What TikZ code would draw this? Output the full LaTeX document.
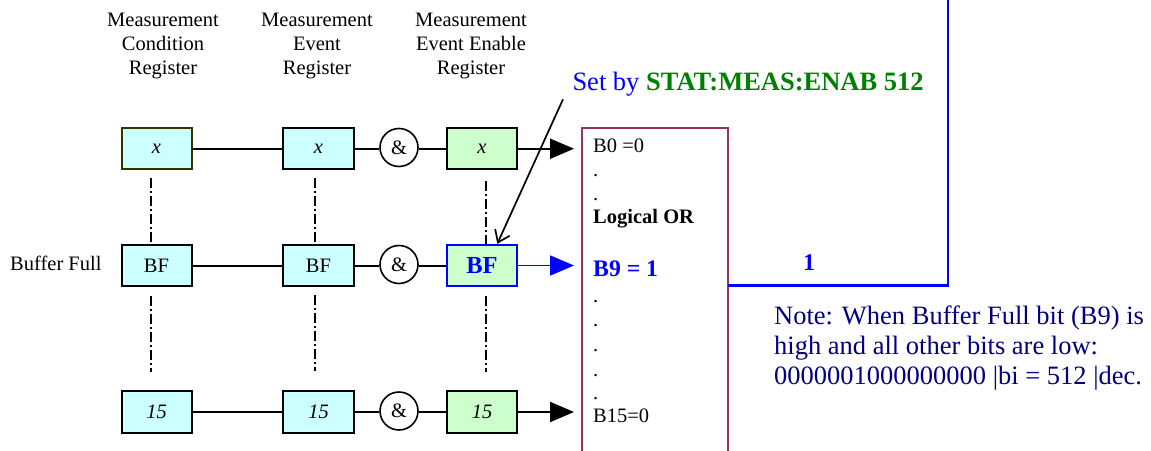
\documentclass[tikz,border=0pt]{standalone}
\usepackage{fontspec}
\setmainfont{Liberation Serif}
\usetikzlibrary{arrows.meta,calc}
\definecolor{cyanfill}{HTML}{CCFFFF}
\definecolor{greenfill}{HTML}{CCFFCC}
\definecolor{orboxcol}{HTML}{993366}
\definecolor{cmdgreen}{HTML}{008000}
\definecolor{notenavy}{HTML}{000080}
\definecolor{oliveborder}{HTML}{333300}
\begin{document}
\begin{tikzpicture}[x=1pt,y=-1pt,
  reg/.style={draw=black, line width=2pt, minimum width=70pt, minimum height=41.5pt, inner sep=0pt, font=\fontsize{20.5}{24}\selectfont},
  cyanreg/.style={reg, fill=cyanfill},
  greenreg/.style={reg, fill=greenfill},
  andgate/.style={circle, draw=black, line width=1.6pt, minimum size=38pt, inner sep=0pt, fill=white, font=\fontsize{20.5}{24}\selectfont},
  wire/.style={line width=2pt},
  feed/.style={line width=2pt, -{Triangle[length=24pt,width=20pt]}},
  chain/.style={line width=2pt, dash pattern=on 10pt off 3pt on 2pt off 3pt},
  lbl/.style={inner sep=0pt, font=\fontsize{20.5}{24}\selectfont},
  notetext/.style={inner sep=0pt, text=notenavy, font=\fontsize{26.5}{30}\selectfont}
]
\useasboundingbox (0,0) rectangle (1151,450);

% headers
\node[lbl, align=center, anchor=north] (h1) at (163,13) {Measurement\\Condition\\Register};
\node[lbl, align=center, anchor=north] (h2) at (317,13) {Measurement\\Event\\Register};
\node[lbl, align=center, anchor=north] (h3) at (471,13) {Measurement\\Event Enable\\Register};

\node[lbl, anchor=base west] (bflabel) at (10,270.7) {Buffer Full};

% registers
\node[cyanreg, draw=oliveborder] (c1r1) at (156.5,148.7) {\itshape x};
\node[cyanreg, minimum width=71pt] (c2r1) at (318.5,148.7) {\itshape x};
\node[andgate] (and1) at (399,147.5) {\&};
\node[greenreg] (c3r1) at (482,148.7) {\itshape x};

\node[cyanreg] (c1r2) at (156.5,265.5) {BF};
\node[cyanreg, minimum width=71pt] (c2r2) at (318.5,265.5) {BF};
\node[andgate] (and2) at (399,264.5) {\&};
\node[greenreg, draw=blue, text=blue, font=\fontsize{24.5}{28}\selectfont\bfseries] (c3r2) at (482,265.5) {BF};

\node[cyanreg] (c1r3) at (156.5,412) {\itshape 15};
\node[cyanreg, minimum width=71pt] (c2r3) at (318.5,412) {\itshape 15};
\node[andgate] (and3) at (399,411) {\&};
\node[greenreg] (c3r3) at (482,412) {\itshape 15};

% arrow targets
\coordinate (in1) at (574,148.7);
\coordinate (in2) at (574,265.5);
\coordinate (in3) at (574,412);

% horizontal wires
\draw[wire] (c1r1) -- (c2r1);
\draw[wire] (c2r1) -- (and1.west |- c2r1);
\draw[wire] (and1.east |- c3r1) -- (c3r1);
\draw[feed] (c3r1) -- (in1);

\draw[wire] (c1r2) -- (c2r2);
\draw[wire] (c2r2) -- (and2.west |- c2r2);
\draw[wire] (and2.east |- c3r2) -- (c3r2);
\draw[feed, blue, line width=1.8pt] (c3r2) -- (in2);

\draw[wire] (c1r3) -- (c2r3);
\draw[wire] (c2r3) -- (and3.west |- c2r3);
\draw[wire] (and3.east |- c3r3) -- (c3r3);
\draw[feed] (c3r3) -- (in3);

% vertical dash-dot chains
\draw[chain] ($(c1r1.south)+(-5.5,7.5)$) -- ($(c1r2.north)+(-5.5,0)$);
\draw[chain] ($(c1r2.south)+(-5.5,9)$) -- ($(c1r3.north)+(-5.5,-18)$);
\draw[chain] ($(c2r1.south)+(-3.8,7.5)$) -- ($(c2r2.north)+(-3.8,0)$);
\draw[chain] ($(c2r2.south)+(-3.8,7.5)$) -- ($(c2r3.north)+(-3.8,-19.5)$);
\draw[chain] ($(c3r1.south)+(3.7,11)$) -- ($(c3r2.north)+(3.7,0)$);
\draw[chain] ($(c3r2.south)+(3.7,9)$) -- ($(c3r3.north)+(3.7,-18)$);

% OR box
\draw[orboxcol, line width=2pt] (581.7,451) -- (581.7,128.3) -- (728,128.3) -- (728,451);
\node[lbl, anchor=base west] (b0) at (593,152.7) {B0 =0};
\node[lbl, anchor=base west] (d1) at (593,176.5) {.};
\node[lbl, anchor=base west] (d2) at (593,200.8) {.};
\node[lbl, anchor=base west, font=\fontsize{20.5}{24}\selectfont\bfseries] (lor) at (593,223) {Logical OR};
\node[lbl, anchor=base west, text=blue, font=\fontsize{23.7}{28}\selectfont\bfseries] (b9) at (593,276.7) {B9 = 1};
\node[lbl, anchor=base west] (d3) at (593,302.5) {.};
\node[lbl, anchor=base west] (d4) at (593,326.5) {.};
\node[lbl, anchor=base west] (d5) at (593,351.5) {.};
\node[lbl, anchor=base west] (d6) at (593,376.5) {.};
\node[lbl, anchor=base west] (d7) at (593,399.2) {.};
\node[lbl, anchor=base west] (b15) at (593,422.3) {B15=0};

% output line
\coordinate (orout) at (728,285.7);
\coordinate (corner) at (948,285.7);
\coordinate (uptop) at (948,-5);
\draw[blue, line width=2.5pt] (orout) -- (corner) -- (uptop);
\node[lbl, anchor=base west, text=blue, font=\fontsize{24}{28}\selectfont\bfseries] (one) at (803,270.7) {1};

% set by annotation
\node[inner sep=0pt, anchor=base west, font=\fontsize{26.5}{30}\selectfont] (setby) at (572.3,90.7) {\textcolor{blue}{Set by }\textcolor{cmdgreen}{\bfseries STAT:MEAS:ENAB 512}};
\coordinate (setpt) at (563,99.3);
\draw[line width=1.7pt, -{Straight Barb[length=11pt,width=16pt]}] (setpt) -- ($(c3r2.north)+(15.3,0)$);

% note
\node[notetext, align=left, anchor=north west] (note) at (774,306) {Note: When Buffer Full bit (B9) is\\high and all other bits are low:\\0000001000000000 |bi = 512 |dec.};
\end{tikzpicture}
\end{document}
